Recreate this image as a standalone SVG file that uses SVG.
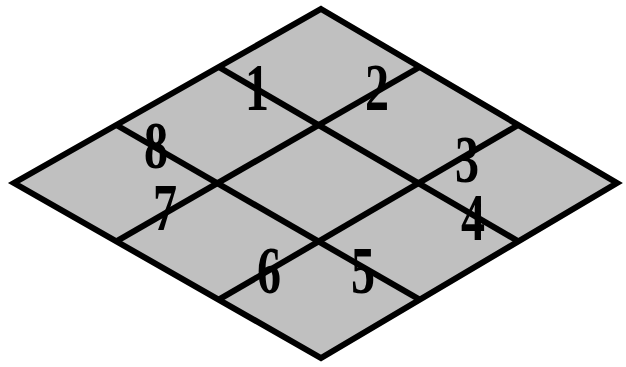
<svg xmlns="http://www.w3.org/2000/svg" width="626" height="367" viewBox="0 0 626 367">
<style>
.shape{fill:#c0c0c0;stroke:#000;stroke-width:6;stroke-linejoin:miter}
.grid line{stroke:#000;stroke-width:6}
.lbl{font-family:"Liberation Serif","Times New Roman",serif;font-weight:bold;font-size:67px;fill:#000;text-anchor:middle}
</style>
<rect width="626" height="367" fill="#fff"/>
<g id="rhombus">
<polygon class="shape" points="321,9 617,183 321,358 14,183"/>
</g>
<g id="grid" class="grid">
<line x1="218.7" y1="67" x2="518.3" y2="241.3"/>
<line x1="116.3" y1="125" x2="419.7" y2="299.7"/>
<line x1="419.7" y1="67" x2="116.3" y2="241.3"/>
<line x1="518.3" y1="125" x2="218.7" y2="299.7"/>
</g>
<g id="labels">
<text class="lbl" x="257" y="110" textLength="24" lengthAdjust="spacingAndGlyphs">1</text>
<text class="lbl" x="377" y="110" textLength="24" lengthAdjust="spacingAndGlyphs">2</text>
<text class="lbl" x="467" y="182" textLength="24" lengthAdjust="spacingAndGlyphs">3</text>
<text class="lbl" x="473" y="240" textLength="24" lengthAdjust="spacingAndGlyphs">4</text>
<text class="lbl" x="363" y="293" textLength="24" lengthAdjust="spacingAndGlyphs">5</text>
<text class="lbl" x="269" y="293" textLength="24" lengthAdjust="spacingAndGlyphs">6</text>
<text class="lbl" x="165" y="230" textLength="24" lengthAdjust="spacingAndGlyphs">7</text>
<text class="lbl" x="156" y="168" textLength="24" lengthAdjust="spacingAndGlyphs">8</text>
</g>
</svg>
